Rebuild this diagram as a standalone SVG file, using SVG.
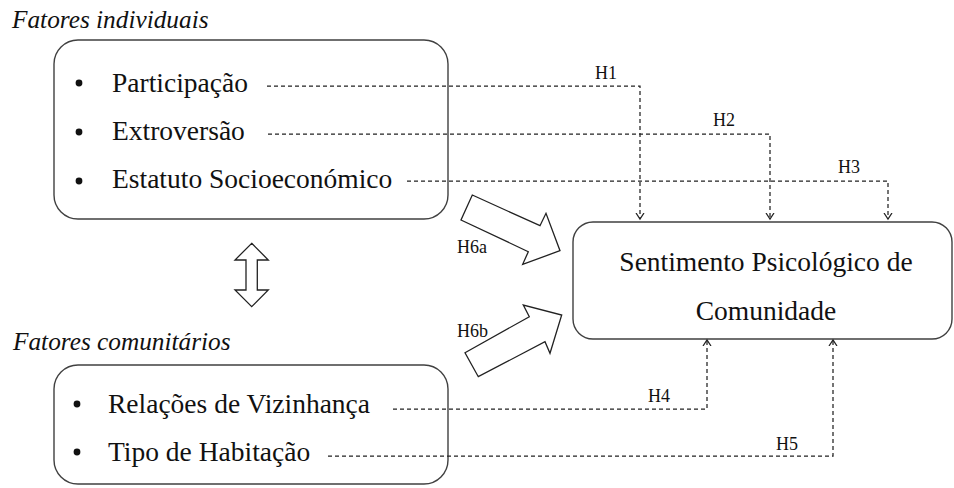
<svg xmlns="http://www.w3.org/2000/svg" width="954" height="488" viewBox="0 0 954 488">
<defs>
<style>
.box{fill:#fff;stroke:#404040;stroke-width:1.4}
.t{font-family:"Liberation Serif","Times New Roman",serif;font-size:27.5px;fill:#111}
.ti{font-family:"Liberation Serif","Times New Roman",serif;font-size:25.3px;font-style:italic;fill:#111}
.h{font-family:"Liberation Serif","Times New Roman",serif;font-size:18px;fill:#111}
.d{fill:none;stroke:#222;stroke-width:1.25;stroke-dasharray:4 3}
.ba{fill:#fff;stroke:#222;stroke-width:1.3;stroke-linejoin:miter}
.bul{fill:#111}
</style>
<marker id="ah" markerUnits="userSpaceOnUse" markerWidth="12" markerHeight="12" viewBox="-6 -6 12 12" refX="0" refY="0" orient="auto">
<path d="M-6,-4 L0,0 L-6,4" fill="none" stroke="#222" stroke-width="1.25"/>
</marker>
</defs>
<rect width="954" height="488" fill="#fff"/>

<g id="individuais">
<text class="ti" x="12" y="28">Fatores individuais</text>
<rect class="box" x="54" y="40" width="394" height="179" rx="24" ry="24"/>
<circle class="bul" cx="79" cy="83" r="3.4"/>
<circle class="bul" cx="79" cy="132" r="3.4"/>
<circle class="bul" cx="79" cy="181" r="3.4"/>
<text class="t" x="112" y="92">Participação</text>
<text class="t" x="112" y="140">Extroversão</text>
<text class="t" x="112" y="188">Estatuto Socioeconómico</text>
</g>

<g id="comunitarios">
<text class="ti" x="13" y="350">Fatores comunitários</text>
<rect class="box" x="54" y="365" width="394" height="119" rx="24" ry="24"/>
<circle class="bul" cx="77" cy="404" r="3.4"/>
<circle class="bul" cx="77" cy="452" r="3.4"/>
<text class="t" x="108" y="413">Relações de Vizinhança</text>
<text class="t" x="108" y="461">Tipo de Habitação</text>
</g>

<g id="sentimento">
<rect class="box" x="573" y="222" width="379" height="117" rx="20" ry="20"/>
<text class="t" x="766" y="271" text-anchor="middle">Sentimento Psicológico de</text>
<text class="t" x="766" y="320" text-anchor="middle">Comunidade</text>
</g>

<g id="connectors">
<path class="d" d="M267,86 H640 V219" marker-end="url(#ah)"/>
<path class="d" d="M268,134 H770 V219" marker-end="url(#ah)"/>
<path class="d" d="M407,181 H888 V219" marker-end="url(#ah)"/>
<path class="d" d="M393,409 H707 V340" marker-end="url(#ah)"/>
<path class="d" d="M328,456 H833 V340" marker-end="url(#ah)"/>
<polygon class="ba" points="472.3,195 540,225.7 546,213.3 560,250.7 522.7,264.3 528.3,251.7 461,220"/>
<polygon class="ba" points="465,352.7 529.3,316.7 523.3,305 561.7,315 550,353.3 545,341.7 478.3,376.7"/>
<polygon class="ba" points="251.7,243.3 268.3,260 257.3,260 257.3,290 268.3,290 251.7,306.7 235,290 246,290 246,260 235,260"/>
<text class="h" x="595" y="79">H1</text>
<text class="h" x="713" y="126">H2</text>
<text class="h" x="838" y="173">H3</text>
<text class="h" x="648" y="402">H4</text>
<text class="h" x="776" y="450">H5</text>
<text class="h" x="457" y="253">H6a</text>
<text class="h" x="457" y="337">H6b</text>
</g>
</svg>
